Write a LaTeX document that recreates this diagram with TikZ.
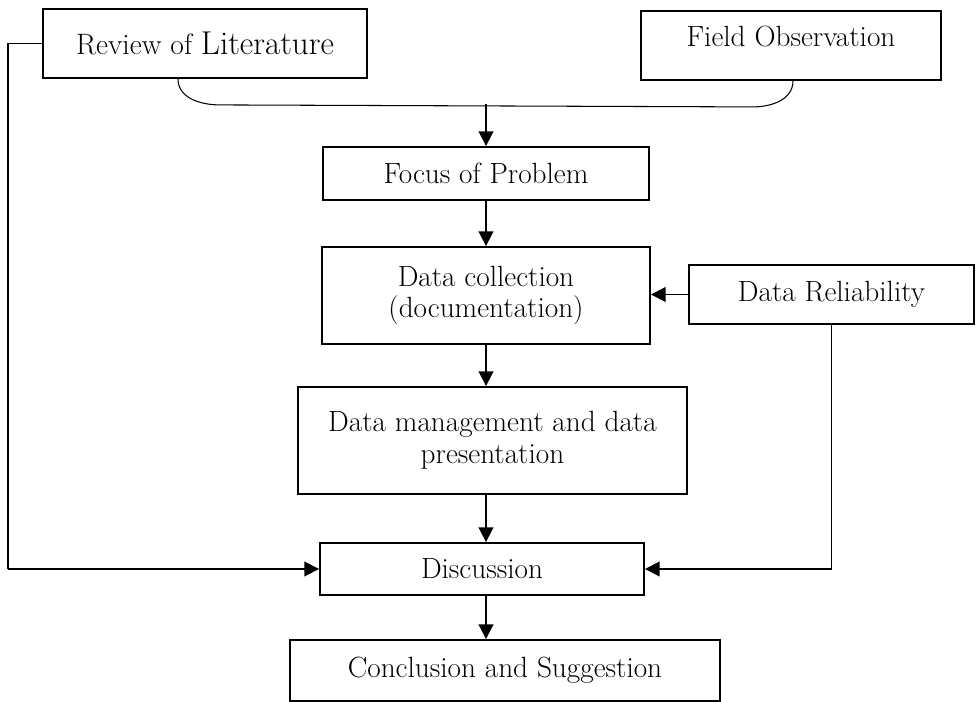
\documentclass[tikz,border=0pt]{standalone}
\usetikzlibrary{arrows.meta, calc}
\tikzset{
    stage/.style={
        draw,
        rectangle,
        line width=1.3pt,
        align=center,
        inner sep=2pt,
        font=\fontsize{20.8}{22.5}\selectfont,
    },
    flow/.style={
        line width=1.3pt,
        -{Triangle[length=10.5pt, width=10.5pt]},
    },
    link/.style={
        line width=0.75pt,
    }
}

\begin{document}
\begin{tikzpicture}[x=0.025cm, y=-0.025cm]
        \useasboundingbox (0,0) rectangle (976,702);
        \node[stage, minimum width=8.1cm, minimum height=1.725cm] (rev) at (205,43.5) {{\fontsize{21}{22}\selectfont Review of} {\fontsize{23.5}{26}\selectfont Literature}};
        \node[stage, minimum width=7.5cm, minimum height=1.725cm, text height=14.5pt, text depth=13pt] (field) at (791,45.5) {Field Observation};
        \node[stage, minimum width=8.15cm, minimum height=1.325cm] (focus) at (486,173.5) {Focus of Problem};
        \node[stage, minimum width=8.2cm, minimum height=2.425cm] (coll) at (486,295.5) {Data collection\\(documentation)};
        \node[stage, minimum width=7.125cm, minimum height=1.475cm] (rel) at (831.5,294.5) {Data Reliability};
        \node[stage, minimum width=9.725cm, minimum height=2.675cm] (mgmt) at (492.5,440.5) {Data management and data\\presentation};
        \node[stage, minimum width=8.1cm, minimum height=1.3cm] (disc) at (482,569) {Discussion};
        \node[stage, minimum width=10.75cm, minimum height=1.525cm] (concl) at (505,670.5) {Conclusion and Suggestion};
        \coordinate (revfoot) at ($(rev.south)+(-27,0)$);
        \coordinate (fieldfoot) at ($(field.south)+(2,0)$);
        \coordinate (join) at (focus.north |- 0,104);
        \coordinate (ltop) at (8,0 |- rev.west);
        \coordinate (lcorner) at (8,0 |- disc.west);
        \coordinate (rcorner) at (rel.south |- disc.east);
        \draw[link] (revfoot) to[out=-90, in=180] ++(42,26) -- ($(fieldfoot)+(-40,26)$) to[out=0, in=-90] (fieldfoot);
        \draw[flow] (join) -- (focus.north);
        \draw[flow] (focus.south) -- (coll.north);
        \draw[flow] (rel.west) -- (rel.west -| coll.east);
        \draw[flow] (coll.south) -- (coll.south |- mgmt.north);
        \draw[flow] (coll.south |- mgmt.south) -- (coll.south |- disc.north);
        \draw[flow] (coll.south |- disc.south) -- (coll.south |- concl.north);
        \draw[link] (rev.west) -- (ltop) -- (lcorner);
        \draw[flow] (lcorner) -- (disc.west);
        \draw[link] (rel.south) -- (rcorner);
        \draw[flow] (rcorner) -- (disc.east);
\end{tikzpicture}
\end{document}
